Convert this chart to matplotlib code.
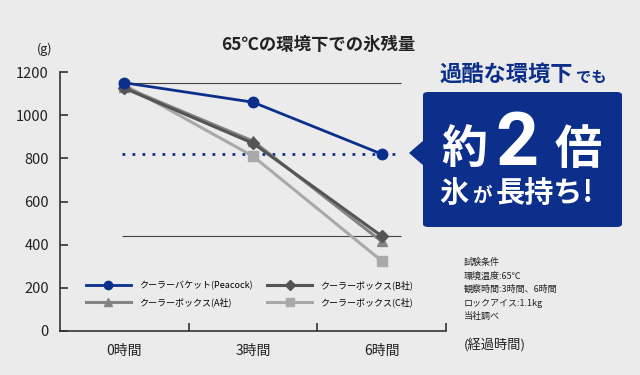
import numpy as np
import matplotlib
matplotlib.use("Agg")
import matplotlib.pyplot as plt
from matplotlib.patches import FancyBboxPatch, Polygon

plt.rcParams['font.family'] = ['Noto Sans CJK JP', 'DejaVu Sans']

# data (g of ice left)
hours = ['0時間', '3時間', '6時間']
peacock = [1150, 1060, 820]
box_a = [1130, 880, 415]
box_b = [1125, 870, 440]
box_c = [1140, 810, 325]
labels = ['クーラーバケット(Peacock)', 'クーラーボックス(A社)',
          'クーラーボックス(B社)', 'クーラーボックス(C社)']
yticks = [0, 200, 400, 600, 800, 1000, 1200]
notes = ['試験条件', '環境温度:65℃', '観察時間:3時間、6時間', 'ロックアイス:1.1kg', '当社調べ']

bg = '#ebebeb'
blue = '#0b2f8a'
dark = '#555555'
mid = '#848484'
light = '#a9a9a9'

fig = plt.figure(figsize=(6.4, 3.75), dpi=100, facecolor=bg)
ax = fig.add_axes([60/640, 1-331/375, 386/640, 259/375])
ax.set_facecolor(bg)

x = np.arange(len(hours))

# reference lines
ax.hlines(peacock[0], -0.02, 2.15, color='#444444', lw=0.8, zorder=1)
ax.hlines(box_b[2], -0.02, 2.15, color='#444444', lw=0.8, zorder=1)
ax.hlines(peacock[2], -0.02, 2.15, color=blue, lw=2, linestyles=(0, (1, 2.6)), zorder=1)

ax.plot(x, box_c, color=light, lw=2.2, marker='s', ms=6.5, zorder=2, label=labels[3])
ax.plot(x, box_a, color=mid, lw=2.2, marker='^', ms=7.5, zorder=3, label=labels[1])
ax.plot(x, box_b, color=dark, lw=2.2, marker='D', ms=6.5, zorder=4, label=labels[2])
ax.plot(x, peacock, color=blue, lw=2, marker='o', ms=7.5, zorder=5, label=labels[0])

ax.set_xlim(-0.5, 2.5)
ax.set_ylim(0, 1200)
ax.set_yticks(yticks)
ax.set_xticks(x)
ax.set_xticklabels(hours)
ax.set_xticks([0.5, 1.5, 2.5], minor=True)
ax.tick_params(axis='x', which='major', length=0, pad=9, labelsize=10, colors='#222222')
ax.tick_params(axis='x', which='minor', length=6, direction='in', width=1.2, color='#333333')
ax.tick_params(axis='y', length=6, direction='in', width=1.2, pad=8, labelsize=10.5,
               color='#333333', labelcolor='#222222')
for s in ['top', 'right']:
    ax.spines[s].set_visible(False)
for s in ['left', 'bottom']:
    ax.spines[s].set_color('#333333')
    ax.spines[s].set_linewidth(1.2)

h, l = ax.get_legend_handles_labels()
order = [3, 1, 2, 0]
ax.legend([h[i] for i in order], [l[i] for i in order], ncol=2, frameon=False,
          loc='lower left', bbox_to_anchor=(0.055, 0.075), fontsize=6.5,
          handlelength=5.0, handletextpad=0.9, columnspacing=1.6, labelspacing=0.8,
          borderpad=0, markerscale=0.8)

# titles and labels
fig.text(318/640, 1-45/375, '65℃の環境下での氷残量', ha='center', va='center',
         fontsize=12.5, fontweight='bold', color='#222222')
fig.text(45/640, 1-49/375, '(g)', ha='center', va='center', fontsize=9, color='#222222')
fig.text(464/640, 1-345/375, '(経過時間)', ha='left', va='center', fontsize=9.5, color='#222222')
fig.text(464/640, 1-258/375, '\n'.join(notes), ha='left', va='top', fontsize=6.5,
         linespacing=1.6, color='#222222')

# callout
fig.text(439/640, 1-75/375, '過酷な環境下', ha='left', va='center', fontsize=16,
         fontweight='bold', color=blue)
fig.text(576/640, 1-77/375, 'でも', ha='left', va='center', fontsize=11,
         fontweight='bold', color=blue)
box = FancyBboxPatch((423/640, 1-227/375), 199/640, 135/375,
                     boxstyle='round,pad=0,rounding_size=0.008',
                     transform=fig.transFigure, facecolor=blue, edgecolor='none')
fig.patches.append(box)
tri = Polygon([(424/640, 1-140/375), (424/640, 1-166/375), (409/640, 1-153/375)],
              closed=True, transform=fig.transFigure, facecolor=blue, edgecolor='none')
fig.patches.append(tri)
fig.text(464/640, 1-150/375, '約', ha='center', va='center', fontsize=33,
         fontweight='bold', color='white')
fig.text(517/640, 1-145/375, '2', ha='center', va='center', fontsize=54,
         fontweight='bold', color='white', family=['Roboto', 'DejaVu Sans'])
fig.text(578/640, 1-150/375, '倍', ha='center', va='center', fontsize=34,
         fontweight='bold', color='white')
fig.text(454/640, 1-193/375, '氷', ha='center', va='center', fontsize=21,
         fontweight='bold', color='white')
fig.text(482/640, 1-196/375, 'が', ha='center', va='center', fontsize=14,
         fontweight='bold', color='white')
fig.text(496/640, 1-193/375, '長持ち!', ha='left', va='center', fontsize=21,
         fontweight='bold', color='white')

fig.savefig('out.png', dpi=100, facecolor=bg)
